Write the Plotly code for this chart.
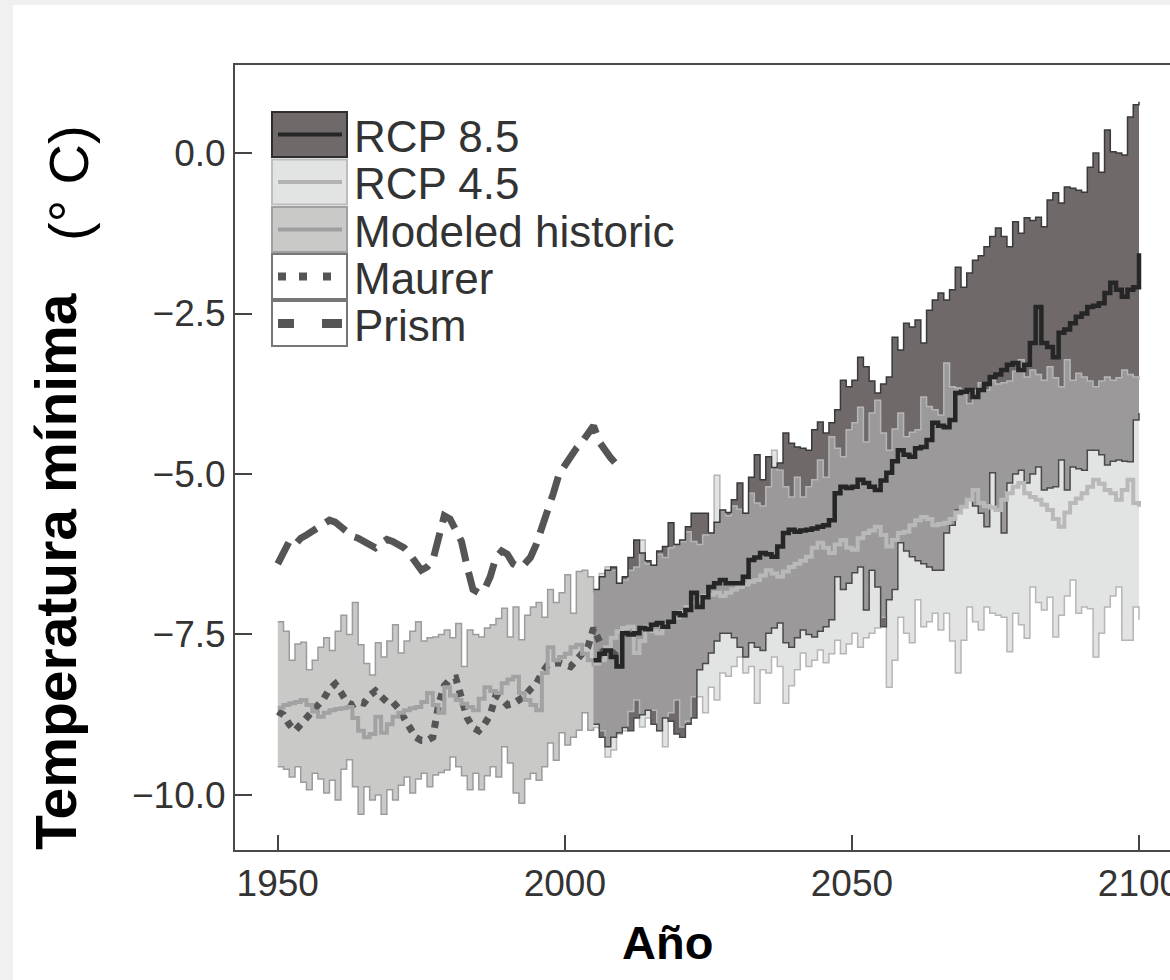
import plotly.graph_objects as go

# ---------------- data ----------------
hist_years = list(range(1950, 2006))
hist_upper = [-7.30, -7.45, -7.90, -7.65, -7.62, -8.05, -7.90, -7.70, -7.55, -7.75,
              -7.45, -7.20, -7.50, -7.00, -7.66, -7.95, -8.13, -7.63, -7.85, -7.60,
              -7.35, -7.79, -7.60, -7.45, -7.30, -7.60, -7.55, -7.54, -7.50, -7.43,
              -7.55, -7.33, -8.00, -7.43, -7.50, -7.54, -7.40, -7.35, -7.25, -7.09,
              -7.54, -7.07, -7.58, -7.20, -7.07, -7.00, -7.23, -6.80, -7.00, -6.85,
              -6.57, -7.17, -6.52, -6.50, -6.60, -6.85]
hist_lower = [-9.56, -9.60, -9.72, -9.56, -9.80, -9.92, -9.66, -9.75, -9.97, -9.77,
              -10.08, -9.60, -9.45, -9.87, -10.30, -9.87, -10.08, -10.00, -10.30, -9.92,
              -10.08, -9.85, -9.72, -9.97, -9.75, -9.66, -9.87, -9.69, -9.65, -9.61,
              -9.41, -9.56, -9.70, -9.92, -9.66, -9.92, -9.70, -9.56, -9.72, -9.25,
              -9.50, -9.97, -10.13, -9.75, -9.66, -9.77, -9.56, -9.19, -9.46, -9.03,
              -9.22, -9.10, -8.99, -8.72, -8.99, -8.94]
hist_mean = [-8.64, -8.60, -8.57, -8.55, -8.52, -8.60, -8.70, -8.78, -8.72, -8.68,
             -8.66, -8.65, -8.63, -8.80, -9.00, -9.10, -9.05, -8.78, -9.03, -8.90,
             -8.78, -8.72, -8.68, -8.65, -8.63, -8.55, -8.41, -8.60, -8.72, -8.32,
             -8.45, -8.52, -8.58, -8.63, -8.68, -8.50, -8.32, -8.38, -8.41, -8.26,
             -8.20, -8.16, -8.41, -8.52, -8.60, -8.68, -8.10, -7.70, -7.90, -7.85,
             -7.80, -7.70, -7.66, -7.80, -7.90, -8.00]

rcp_years = list(range(2005, 2101))
rcp85_upper = [-6.80, -6.60, -6.50, -6.45, -6.70, -6.60, -6.30, -6.03, -6.23, -6.35,
               -6.42, -6.20, -6.13, -5.76, -6.10, -6.03, -5.82, -5.61, -5.61, -5.61,
               -5.92, -5.75, -5.56, -5.60, -5.40, -5.14, -5.61, -5.05, -4.70, -5.09,
               -4.73, -4.90, -4.83, -4.36, -4.52, -4.58, -4.60, -4.63, -4.31, -4.19,
               -4.36, -4.20, -4.00, -3.54, -3.64, -3.54, -3.18, -3.33, -3.55, -3.74,
               -3.60, -3.49, -2.87, -3.07, -2.65, -2.71, -2.60, -2.96, -2.45, -2.29,
               -2.18, -2.29, -2.13, -1.78, -2.09, -1.87, -1.67, -1.60, -1.46, -1.30,
               -1.17, -1.30, -1.46, -1.07, -1.25, -1.01, -1.05, -1.00, -1.15, -0.73,
               -0.62, -0.78, -0.53, -0.55, -0.58, -0.61, -0.22, 0.00, -0.30, 0.36,
               0.02, 0.00, -0.03, 0.56, 0.75, 0.80]
rcp85_lower = [-8.90, -9.10, -9.25, -9.10, -9.03, -8.95, -9.00, -8.80, -8.75, -8.68,
               -8.90, -9.00, -8.80, -8.85, -9.05, -9.10, -8.90, -8.80, -8.05, -7.95,
               -7.79, -7.60, -7.48, -7.48, -7.55, -7.70, -7.85, -7.63, -7.70, -7.75,
               -7.48, -7.40, -7.32, -7.63, -7.70, -7.55, -7.43, -7.50, -7.54, -7.45,
               -7.38, -7.27, -6.60, -6.80, -6.70, -6.54, -6.45, -7.12, -6.50, -6.76,
               -7.38, -6.96, -6.80, -6.07, -6.20, -6.29, -6.35, -6.40, -6.45, -6.50,
               -6.50, -5.92, -5.80, -5.56, -5.50, -5.40, -5.50, -5.61, -5.82, -4.98,
               -5.56, -5.92, -5.14, -5.00, -4.94, -5.14, -5.00, -4.89, -5.25, -5.22,
               -5.20, -4.78, -5.25, -4.89, -4.92, -4.94, -4.63, -4.63, -4.70, -4.86,
               -4.80, -4.78, -4.80, -4.81, -4.16, -4.05]
rcp85_mean = [-7.90, -7.80, -7.75, -7.85, -8.00, -7.48, -7.50, -7.48, -7.40, -7.42,
              -7.35, -7.32, -7.38, -7.30, -7.17, -7.20, -7.12, -6.85, -7.07, -6.92,
              -6.76, -6.70, -6.65, -6.70, -6.70, -6.70, -6.60, -6.34, -6.30, -6.23,
              -6.25, -6.29, -6.13, -5.92, -5.87, -5.90, -5.88, -5.87, -5.85, -5.82,
              -5.80, -5.72, -5.30, -5.20, -5.22, -5.20, -5.09, -5.14, -5.20, -5.25,
              -5.10, -4.98, -4.80, -4.63, -4.70, -4.73, -4.60, -4.58, -4.47, -4.20,
              -4.25, -4.27, -4.16, -3.74, -3.72, -3.69, -3.80, -3.69, -3.60, -3.49,
              -3.45, -3.38, -3.30, -3.27, -3.38, -3.30, -2.96, -2.40, -2.96, -3.02,
              -3.18, -2.80, -2.75, -2.65, -2.55, -2.50, -2.40, -2.38, -2.34, -2.18,
              -2.02, -2.13, -2.24, -2.13, -2.09, -1.56]
rcp45_upper = [-6.80, -6.55, -6.45, -6.50, -6.70, -6.65, -6.50, -6.45, -6.03, -6.40,
               -6.42, -6.25, -6.30, -6.15, -6.10, -6.05, -5.90, -6.05, -6.10, -5.95,
               -5.92, -5.02, -5.56, -5.65, -5.50, -5.55, -5.61, -5.30, -5.45, -5.50,
               -5.20, -4.63, -4.94, -5.20, -5.36, -5.05, -5.36, -5.20, -5.09, -4.78,
               -5.05, -4.42, -4.60, -4.73, -4.31, -4.20, -3.96, -4.50, -4.05, -3.85,
               -4.36, -4.63, -4.30, -4.05, -4.42, -4.35, -4.31, -3.80, -3.95, -4.00,
               -4.08, -3.27, -3.64, -3.66, -3.69, -3.90, -3.70, -3.58, -3.69, -3.54,
               -3.60, -3.58, -3.55, -3.40, -3.22, -3.49, -3.38, -3.45, -3.54, -3.33,
               -3.50, -3.64, -3.22, -3.54, -3.43, -3.49, -3.55, -3.64, -3.55, -3.49,
               -3.54, -3.50, -3.38, -3.45, -3.49, -3.54]
rcp45_lower = [-8.95, -9.00, -9.41, -9.30, -9.05, -9.00, -8.70, -8.52, -8.94, -8.80,
               -8.68, -9.00, -9.25, -8.72, -8.52, -8.94, -8.85, -8.47, -8.47, -8.72,
               -8.32, -8.52, -8.10, -8.15, -8.00, -7.85, -8.10, -8.00, -8.57, -8.05,
               -8.10, -7.85, -8.00, -8.57, -8.30, -8.05, -7.79, -8.00, -7.90, -7.74,
               -7.94, -7.80, -7.59, -7.80, -7.65, -7.48, -7.70, -7.55, -7.48, -7.40,
               -7.23, -8.32, -7.90, -7.23, -7.48, -7.63, -6.96, -7.38, -7.30, -7.17,
               -7.43, -7.17, -7.60, -8.10, -7.59, -7.07, -7.30, -7.43, -7.07, -7.17,
               -7.20, -7.23, -7.77, -7.17, -7.35, -7.56, -6.76, -7.00, -7.12, -6.92,
               -7.54, -7.20, -6.90, -6.65, -7.17, -7.07, -7.10, -7.85, -7.48, -7.07,
               -6.90, -6.76, -7.59, -7.59, -7.07, -7.27]
rcp45_mean = [-7.95, -7.90, -7.70, -7.55, -7.45, -7.40, -7.38, -7.79, -7.60, -7.38,
              -7.45, -7.48, -7.35, -7.30, -7.23, -7.15, -7.07, -7.00, -6.96, -6.90,
              -6.88, -6.85, -6.90, -6.85, -6.80, -6.76, -6.72, -6.68, -6.65, -6.58,
              -6.50, -6.55, -6.60, -6.52, -6.45, -6.40, -6.35, -6.29, -6.15, -6.07,
              -6.15, -6.23, -6.10, -6.03, -6.15, -6.18, -6.00, -5.92, -5.88, -5.82,
              -5.95, -6.13, -6.03, -5.92, -5.90, -5.80, -5.72, -5.67, -5.70, -5.80,
              -5.78, -5.76, -5.70, -5.60, -5.51, -5.40, -5.25, -5.45, -5.50, -5.52,
              -5.56, -5.40, -5.30, -5.20, -5.14, -5.30, -5.36, -5.40, -5.48, -5.56,
              -5.70, -5.82, -5.60, -5.45, -5.38, -5.30, -5.20, -5.09, -5.15, -5.25,
              -5.30, -5.40, -5.25, -5.09, -5.45, -5.51]

obs_years = list(range(1950, 2011))
prism = [-6.40, -6.20, -6.05, -6.10, -6.00, -5.95, -5.90, -5.85, -5.78, -5.72,
         -5.75, -5.82, -5.90, -5.97, -6.00, -6.05, -6.10, -6.15, -6.08, -6.02,
         -6.05, -6.10, -6.15, -6.25, -6.40, -6.50, -6.45, -6.35, -6.00, -5.65,
         -5.70, -5.85, -6.05, -6.45, -6.80, -6.85, -6.80, -6.60, -6.30, -6.20,
         -6.25, -6.40, -6.45, -6.40, -6.30, -6.10, -5.85, -5.60, -5.30, -5.00,
         -4.85, -4.70, -4.60, -4.50, -4.35, -4.25, -4.50, -4.65, -4.75, -4.85,
         -4.90]
maurer = [-8.70, -8.75, -8.90, -9.00, -8.90, -8.80, -8.70, -8.60, -8.50, -8.35,
          -8.27, -8.40, -8.55, -8.60, -8.55, -8.57, -8.45, -8.38, -8.45, -8.55,
          -8.55, -8.65, -8.80, -8.95, -9.10, -9.15, -9.15, -9.10, -8.60, -8.30,
          -8.20, -8.18, -8.50, -8.80, -8.95, -9.00, -8.90, -8.75, -8.45, -8.50,
          -8.60, -8.58, -8.52, -8.46, -8.35, -8.27, -8.10, -7.98, -7.95, -7.94,
          -7.97, -8.00, -7.90, -7.80, -7.70, -7.40, -7.60, -7.80, -7.85, -7.75,
          -7.70]

legend_labels = ["RCP 8.5", "RCP 4.5", "Modeled historic", "Maurer", "Prism"]
x_ticks = [1950, 2000, 2050, 2100]
y_ticks = [-10.0, -7.5, -5.0, -2.5, 0.0]

# ---------------- styles ----------------
W, H = 1170, 980
ML, MR, MT, MB = 235, 0, 65, 130
PW, PH = W - ML - MR, H - MT - MB


def px(x):
    return (x - ML) / PW


def py(y):
    return (H - MB - y) / PH


C85_FILL = "#6f696a"
C45_FILL = "rgba(199,201,201,0.51)"
CH_FILL = "#c9c9c8"
FONT = "Arial, Liberation Sans, Helvetica, sans-serif"

fig = go.Figure()


def band(xs, lo, hi, color):
    fig.add_trace(go.Scatter(x=xs, y=lo, mode="lines", line=dict(width=0, shape="hv"),
                             showlegend=False, hoverinfo="skip"))
    fig.add_trace(go.Scatter(x=xs, y=hi, mode="lines", line=dict(width=0, shape="hv"),
                             fill="tonexty", fillcolor=color, showlegend=False, hoverinfo="skip"))


def edge(xs, ys, color, width):
    fig.add_trace(go.Scatter(x=xs, y=ys, mode="lines", line=dict(color=color, width=width, shape="hv"),
                             showlegend=False, hoverinfo="skip"))


band(hist_years, hist_lower, hist_upper, CH_FILL)
band(rcp_years, rcp85_lower, rcp85_upper, C85_FILL)
band(rcp_years, rcp45_lower, rcp45_upper, C45_FILL)

edge(hist_years, hist_upper, "#9c9c9c", 1.5)
edge(hist_years, hist_lower, "#9c9c9c", 1.5)
edge(rcp_years, rcp45_upper, "#b6b6b6", 1.5)
edge(rcp_years, rcp45_lower, "#b6b6b6", 1.5)
edge(rcp_years, rcp85_upper, "#3a3a3a", 1.5)
edge(rcp_years, rcp85_lower, "#4a4a4a", 1.5)

fig.add_trace(go.Scatter(x=obs_years, y=prism, mode="lines", name="Prism",
                         line=dict(color="#555555", width=7, dash="24px,11px"),
                         showlegend=False))
fig.add_trace(go.Scatter(x=obs_years, y=maurer, mode="lines", name="Maurer",
                         line=dict(color="#555555", width=7, dash="7px,7px"),
                         showlegend=False))
edge(hist_years, hist_mean, "#a2a2a2", 4)
edge(rcp_years, rcp45_mean, "#b9b9b9", 4)
edge(rcp_years, rcp85_mean, "#262626", 4.5)

shapes = []
annotations = []

# white panel over light grey page
shapes.append(dict(type="rect", xref="paper", yref="paper", x0=px(13), x1=px(1175),
                   y0=py(5), y1=py(985), fillcolor="white", line=dict(width=0), layer="below"))

# manual legend
box_tops = [112, 159.5, 207, 254, 301]
box_fill = [C85_FILL, "#e2e3e3", CH_FILL, "white", "white"]
box_line = ["#2e2e2e", "#bdbdbd", "#a0a0a0", "#777777", "#777777"]
inner_line = ["#262626", "#b2b2b2", "#9f9f9f", None, None]
BH = 45
for i, lab in enumerate(legend_labels):
    t = box_tops[i]
    shapes.append(dict(type="rect", xref="paper", yref="paper", x0=px(272), x1=px(347),
                       y0=py(t), y1=py(t + BH), fillcolor=box_fill[i],
                       line=dict(color=box_line[i], width=2)))
    cy = t + BH / 2
    if inner_line[i]:
        shapes.append(dict(type="line", xref="paper", yref="paper", x0=px(278), x1=px(342),
                           y0=py(cy), y1=py(cy), line=dict(color=inner_line[i], width=4)))
    annotations.append(dict(text=lab, xref="paper", yref="paper", x=px(352), y=py(cy + 2),
                            xanchor="left", yanchor="middle", showarrow=False,
                            font=dict(family=FONT, size=44, color="#333333")))
# Maurer dots
for cx in [282, 303, 327]:
    cy = box_tops[3] + BH / 2
    shapes.append(dict(type="rect", xref="paper", yref="paper", x0=px(cx - 4), x1=px(cx + 4),
                       y0=py(cy - 4), y1=py(cy + 4), fillcolor="#555555", line=dict(width=0)))
# Prism dashes
for x0, x1 in [(278, 294), (322, 342)]:
    cy = box_tops[4] + BH / 2
    shapes.append(dict(type="rect", xref="paper", yref="paper", x0=px(x0), x1=px(x1),
                       y0=py(cy - 4.5), y1=py(cy + 4.5), fillcolor="#555555", line=dict(width=0)))

# axis titles
annotations.append(dict(text="<b>Año</b>", xref="paper", yref="paper", x=px(667), y=py(942),
                        xanchor="center", yanchor="middle", showarrow=False,
                        font=dict(family=FONT, size=47, color="black")))
annotations.append(dict(text="<b>Temperatura mínima</b>", xref="paper", yref="paper",
                        x=px(56), y=py(571), xanchor="center", yanchor="middle", textangle=-90,
                        showarrow=False, font=dict(family=FONT, size=57, color="black")))
annotations.append(dict(text="(° C)", xref="paper", yref="paper",
                        x=px(69), y=py(183), xanchor="center", yanchor="middle", textangle=-90,
                        showarrow=False, font=dict(family=FONT, size=56, color="black")))

fig.update_layout(
    width=W, height=H, autosize=False,
    margin=dict(l=ML, r=MR, t=MT, b=MB, pad=0, autoexpand=False),
    paper_bgcolor="#f0f0f0", plot_bgcolor="white",
    showlegend=False,
    shapes=shapes, annotations=annotations,
    xaxis=dict(range=[1942.55, 2105.4], tickvals=x_ticks, ticktext=[str(v) for v in x_ticks],
               ticks="inside", ticklen=15, tickwidth=2, tickcolor="#444444",
               showline=True, linecolor="#4a4a4a", linewidth=2, mirror=True,
               showgrid=False, zeroline=False, ticklabeloverflow="allow", automargin=False,
               tickfont=dict(family=FONT, size=37, color="#333333")),
    yaxis=dict(range=[-10.857, 1.371], tickvals=y_ticks, tickformat=".1f",
               ticks="inside", ticklen=17, tickwidth=2, tickcolor="#444444",
               showline=True, linecolor="#4a4a4a", linewidth=2, mirror=False,
               showgrid=False, zeroline=False, automargin=False,
               tickfont=dict(family=FONT, size=37, color="#333333")),
)

fig.write_html(
    "out.html",
    config={"displayModeBar": False, "responsive": False},
    post_script="document.body.style.margin='0';document.body.style.overflow='hidden';"
                "document.body.style.background='#f0f0f0';",
)
